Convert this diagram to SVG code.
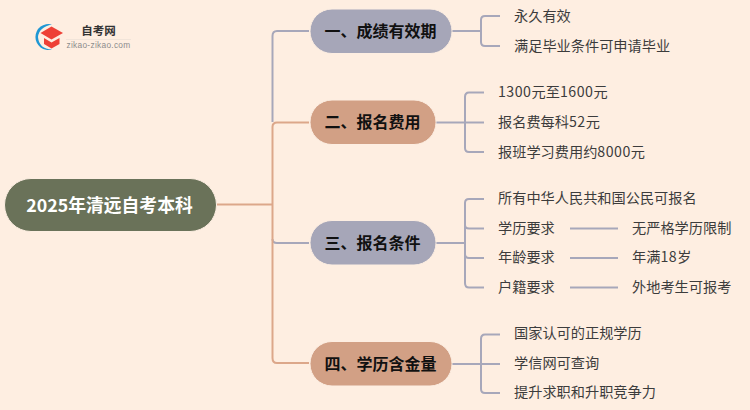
<svg xmlns="http://www.w3.org/2000/svg" width="750" height="410" viewBox="0 0 750 410">
<style>
text{font-family:"Noto Sans CJK SC","Liberation Sans",sans-serif;}
.l{font-size:14.2px;fill:#3c3c3c;dominant-baseline:central;}
.n{letter-spacing:0.500px;}
.b{font-size:16px;font-weight:700;fill:#111;dominant-baseline:central;text-anchor:middle;}
.c{fill:none;stroke-width:2;stroke-linejoin:round;}
.p{stroke:#a7a7ba;}
.o{stroke:#dca78a;}
.s{stroke:#fdeee2;stroke-width:1;}
</style>
<rect width="750" height="410" fill="#feeee1"/>
<g id="connectors">
<path class="c p" d="M309 31H277Q272.500 31 272.500 36V122"/>
<path class="c p" d="M272.500 239Q272.500 243 277 243H309"/>
<path class="c o" d="M217 204.500H272.500M272.500 127Q272.500 122.500 277 122.500H309M272.500 127V358Q272.500 363 277 363H309"/>
<path class="c p" d="M452 31H481M500 16H485Q481 16 481 20V42Q481 46 485 46H500"/>
<path class="c p" d="M436 122.500H465M484 92.500H469Q465 92.500 465 97V148Q465 152 469 152H484M465 122.500H484"/>
<path class="c p" d="M436 243H465M484 199H469Q465 199 465 203V283Q465 287.500 469 287.500H484M465 225Q465 228.500 469 228.500H484M465 254Q465 258 469 258H484"/>
<path class="c p" d="M452 364H481M500 334.500H485Q481 334.500 481 339V389Q481 393 485 393H500M481 364H500"/>
<path class="c p" d="M570 228.500H618M570 258H618M570 287.500H618"/>
</g>
<g id="logo">
<path d="M52 24.500A13 13 0 1 0 52 49.500Q39 49 38 37Q39 27 52 24.500Z" fill="#1f97d4"/>
<path d="M40.500 33L51.500 26.500L63 33L51.500 39.500Z" fill="#ee4036"/>
<path d="M44 38L51.500 42.500L59.500 38V44L51.500 48.500L44 44Z" fill="#ee4036"/>
<text x="98.500" y="30" style="font-size:11.500px;font-weight:700;fill:#333;text-anchor:middle;dominant-baseline:central;">自考网</text>
<rect x="66" y="39" width="65" height="0.800" fill="#eee2d8"/>
<text x="98.500" y="45" style="font-family:'Liberation Sans',sans-serif;font-size:8.300px;fill:#8c8c8c;text-anchor:middle;dominant-baseline:central;letter-spacing:0.300px;">zikao-zikao.com</text>
</g>
<g id="root">
<rect x="4.500" y="178.500" width="212" height="53" rx="26.500" fill="#6a7259" stroke="#fdeee2"/>
<text x="109.500" y="203.500" style="font-size:17.800px;font-weight:700;fill:#fff;text-anchor:middle;dominant-baseline:central;">2025年清远自考本科</text>
</g>
<g id="b1"><rect x="310" y="9" width="142" height="44.500" rx="22" fill="#a6a6b8" class="s"/><text class="b" x="380.500" y="30">一、成绩有效期</text></g>
<g id="b2"><rect x="310" y="100" width="126" height="44.500" rx="22" fill="#d2a085" class="s"/><text class="b" x="372.500" y="121">二、报名费用</text></g>
<g id="b3"><rect x="310" y="220.500" width="126" height="44.500" rx="22" fill="#a6a6b8" class="s"/><text class="b" x="372.500" y="242">三、报名条件</text></g>
<g id="b4"><rect x="310" y="341.500" width="142" height="44.500" rx="22" fill="#d2a085" class="s"/><text class="b" x="380.500" y="363">四、学历含金量</text></g>
<g id="leaves">
<text class="l" x="514" y="14.500">永久有效</text>
<text class="l" x="514" y="44.500">满足毕业条件可申请毕业</text>
<text class="l" x="498" y="91"><tspan class="n">1300</tspan>元至<tspan class="n">1600</tspan>元</text>
<text class="l" x="498" y="120.500">报名费每科<tspan class="n">52</tspan>元</text>
<text class="l" x="498" y="150.500">报班学习费用约<tspan class="n">8000</tspan>元</text>
<text class="l" x="498" y="197">所有中华人民共和国公民可报名</text>
<text class="l" x="498" y="226.500">学历要求</text>
<text class="l" x="498" y="256">年龄要求</text>
<text class="l" x="498" y="285.500">户籍要求</text>
<text class="l" x="632" y="226.500">无严格学历限制</text>
<text class="l" x="632" y="256">年满<tspan class="n">18</tspan>岁</text>
<text class="l" x="632" y="285.500">外地考生可报考</text>
<text class="l" x="514" y="332">国家认可的正规学历</text>
<text class="l" x="514" y="362">学信网可查询</text>
<text class="l" x="514" y="391">提升求职和升职竞争力</text>
</g>
</svg>
